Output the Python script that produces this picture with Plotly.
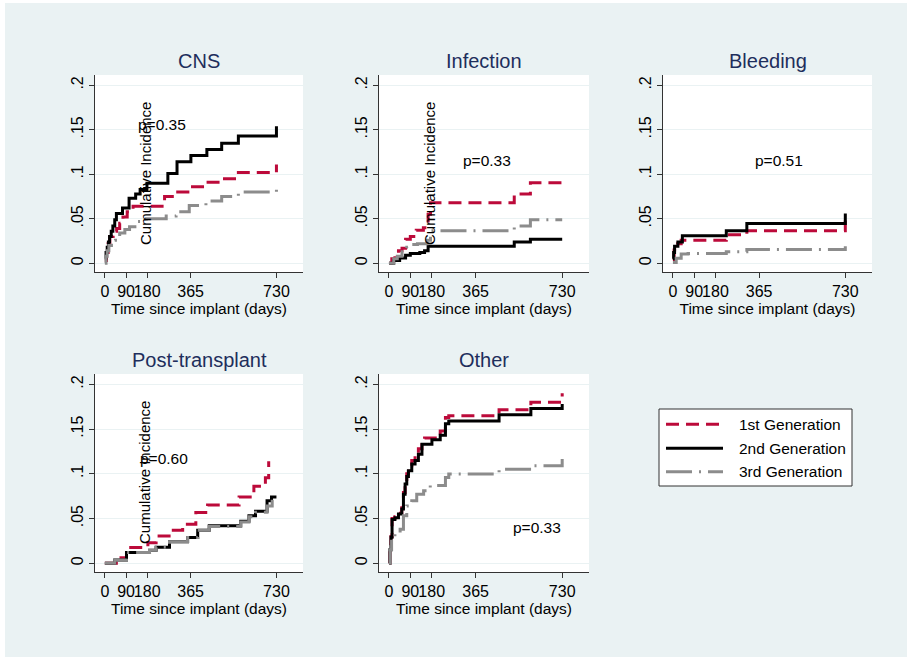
import plotly.graph_objects as go

W, H = 907, 657
FONT = "Liberation Sans, Arial, sans-serif"

# ---- chart content -------------------------------------------------------
panel_titles = ["CNS", "Infection", "Bleeding", "Post-transplant", "Other"]
series_names = ["1st Generation", "2nd Generation", "3rd Generation"]
p_labels = ["p=0.35", "p=0.33", "p=0.51", "p=0.60", "p=0.33"]
x_tickvals = [0, 90, 180, 365, 730]
x_ticktext = ["0", "90", "180", "365", "730"]
y_tickvals = [0, 0.05, 0.1, 0.15, 0.2]
y_ticktext = ["0", ".05", ".1", ".15", ".2"]
x_title = "Time since implant (days)"
y_title = "Cumulative Incidence"

# CNS
cns_gen1_days = [0, 7, 14, 21, 35, 50, 63, 77, 95, 120, 254, 310, 366, 430, 497, 568, 730]
cns_gen1_cif = [0.003, 0.012, 0.022, 0.030, 0.036, 0.039, 0.045, 0.052, 0.058, 0.064,
                0.075, 0.080, 0.086, 0.091, 0.095, 0.102, 0.111]
cns_gen2_days = [0, 5, 10, 15, 20, 27, 34, 42, 49, 75, 103, 131, 150, 179, 268, 307,
                 366, 434, 497, 568, 730]
cns_gen2_cif = [0.005, 0.012, 0.018, 0.024, 0.030, 0.036, 0.042, 0.049, 0.056, 0.062,
                0.073, 0.078, 0.083, 0.090, 0.101, 0.114, 0.121, 0.128, 0.135, 0.143, 0.154]
cns_gen3_days = [0, 5, 10, 17, 28, 45, 63, 85, 105, 137, 176, 261, 303, 359, 430, 497, 568, 730]
cns_gen3_cif = [0.0, 0.008, 0.014, 0.020, 0.026, 0.030, 0.034, 0.038, 0.041, 0.047,
                0.050, 0.053, 0.058, 0.065, 0.070, 0.075, 0.080, 0.086]

# Infection
inf_gen1_days = [0, 12, 25, 40, 55, 70, 90, 115, 145, 165, 175, 528, 596, 730]
inf_gen1_cif = [0, 0.005, 0.010, 0.014, 0.017, 0.027, 0.030, 0.037, 0.040, 0.055,
                0.068, 0.078, 0.0905, 0.0905]
inf_gen2_days = [0, 20, 45, 70, 90, 130, 150, 165, 528, 596, 730]
inf_gen2_cif = [0, 0.003, 0.006, 0.009, 0.011, 0.012, 0.014, 0.019, 0.024, 0.027, 0.027]
inf_gen3_days = [0, 20, 35, 55, 75, 95, 120, 160, 175, 528, 596, 730]
inf_gen3_cif = [0, 0.005, 0.008, 0.013, 0.018, 0.021, 0.022, 0.026, 0.0365, 0.042, 0.049, 0.049]

# Bleeding
bld_gen1_days = [0, 5, 20, 35, 226, 313, 730]
bld_gen1_cif = [0.004, 0.015, 0.022, 0.026, 0.032, 0.0365, 0.048]
bld_gen2_days = [0, 3, 7, 21, 40, 226, 313, 730]
bld_gen2_cif = [0.005, 0.012, 0.019, 0.024, 0.031, 0.0365, 0.0447, 0.056]
bld_gen3_days = [0, 14, 35, 64, 226, 313, 730]
bld_gen3_cif = [0.001, 0.0056, 0.0104, 0.011, 0.013, 0.0156, 0.019]

# Post-transplant
ptx_gen1_days = [0, 56, 92, 183, 218, 282, 331, 387, 437, 571, 634, 683, 697]
ptx_gen1_cif = [0, 0.006, 0.0175, 0.023, 0.0305, 0.037, 0.0436, 0.0566, 0.065, 0.074,
                0.086, 0.0957, 0.114]
ptx_gen2_days = [0, 42, 92, 190, 218, 275, 352, 395, 444, 578, 613, 641, 690, 709, 730]
ptx_gen2_cif = [0, 0.0037, 0.012, 0.0145, 0.018, 0.024, 0.0287, 0.037, 0.042, 0.047,
                0.053, 0.058, 0.070, 0.074, 0.074]
ptx_gen3_days = [0, 42, 92, 190, 218, 275, 352, 395, 444, 578, 613, 641, 690, 712]
ptx_gen3_cif = [0, 0.0037, 0.012, 0.0145, 0.018, 0.024, 0.0287, 0.037, 0.041, 0.046,
                0.052, 0.057, 0.064, 0.071]

# Other
oth_gen1_days = [0, 4, 8.5, 13, 25, 40, 54, 61, 68, 75, 82, 96, 110, 124, 139, 150,
                 181, 216, 238, 252, 464, 598, 730]
oth_gen1_cif = [0, 0.016, 0.030, 0.050, 0.052, 0.056, 0.062, 0.079, 0.091, 0.100, 0.109,
                0.115, 0.120, 0.128, 0.137, 0.140, 0.140, 0.148, 0.163, 0.165, 0.1716,
                0.180, 0.190]
oth_gen2_days = [0, 4, 8.5, 13, 25, 40, 54, 61, 68, 75, 82, 96, 110, 124, 139, 181,
                 216, 238, 252, 464, 598, 730]
oth_gen2_cif = [0, 0.015, 0.029, 0.049, 0.051, 0.055, 0.0606, 0.077, 0.0886, 0.097,
                0.1035, 0.111, 0.115, 0.122, 0.133, 0.138, 0.143, 0.156, 0.159, 0.166,
                0.173, 0.178]
oth_gen3_days = [0, 5, 11, 25, 47, 61, 75, 96, 117, 146, 174, 238, 252, 464, 613, 730]
oth_gen3_cif = [0, 0.015, 0.029, 0.034, 0.038, 0.053, 0.064, 0.070, 0.077, 0.081,
                0.087, 0.096, 0.0998, 0.105, 0.109, 0.1166]

panel_series = [
    [(cns_gen1_days, cns_gen1_cif), (cns_gen2_days, cns_gen2_cif), (cns_gen3_days, cns_gen3_cif)],
    [(inf_gen1_days, inf_gen1_cif), (inf_gen2_days, inf_gen2_cif), (inf_gen3_days, inf_gen3_cif)],
    [(bld_gen1_days, bld_gen1_cif), (bld_gen2_days, bld_gen2_cif), (bld_gen3_days, bld_gen3_cif)],
    [(ptx_gen1_days, ptx_gen1_cif), (ptx_gen2_days, ptx_gen2_cif), (ptx_gen3_days, ptx_gen3_cif)],
    [(oth_gen1_days, oth_gen1_cif), (oth_gen2_days, oth_gen2_cif), (oth_gen3_days, oth_gen3_cif)],
]

# ---- styling -------------------------------------------------------------
line_colors = ["#BC0A3A", "#000000", "#8C8C8C"]
line_dashes = ["13px,7px", "solid", "26px,7px,2px,7px"]
LINE_W = 3
BG = "#EAF2F3"
TITLE_COLOR = "#1E2E5C"

# plot-area boxes in pixels: (left, top, right, bottom)
boxes = [
    (95, 75, 303, 272),
    (379, 75, 589, 272),
    (663, 75, 872, 272),
    (95, 374, 303, 572),
    (379, 374, 589, 572),
]
# p-value label positions in data units (days, incidence)
p_pos = [(245, 0.156), (412, 0.115), (450, 0.115), (251, 0.117), (624, 0.040)]
# panels that carry the rotated incidence label, with its pixel centre
ylab_px = {0: (145, 174), 1: (429, 174), 3: (144, 473)}


def px(x):
    return x / W


def py(y):
    return 1 - y / H


fig = go.Figure()
annotations = []
shapes = []

for i, (l, t, r, b) in enumerate(boxes):
    n = i + 1
    xa = "x" if n == 1 else f"x{n}"
    ya = "y" if n == 1 else f"y{n}"
    for k, (days, cif) in enumerate(panel_series[i]):
        fig.add_trace(go.Scatter(
            x=days, y=cif, mode="lines", name=series_names[k],
            line=dict(color=line_colors[k], width=LINE_W, dash=line_dashes[k], shape="hv"),
            xaxis=xa, yaxis=ya, showlegend=False, hoverinfo="skip",
        ))
    axis_common = dict(
        showline=True, linecolor="#333333", linewidth=1,
        ticks="outside", ticklen=5, tickcolor="#333333", tickwidth=1,
        zeroline=False, tickfont=dict(family=FONT, size=16, color="#000000"),
    )
    fig.layout[f"xaxis{'' if n == 1 else n}"] = dict(
        domain=[px(l), px(r)], anchor=ya, range=[-42, 843],
        tickmode="array", tickvals=x_tickvals, ticktext=x_ticktext, tickangle=0,
        showgrid=False,
        title=dict(text=x_title, font=dict(family=FONT, size=15.5, color="#000000"), standoff=0),
        **axis_common,
    )
    fig.layout[f"yaxis{'' if n == 1 else n}"] = dict(
        domain=[py(b), py(t)], anchor=xa, range=[-0.0098, 0.2116],
        tickmode="array", tickvals=y_tickvals, ticktext=y_ticktext, tickangle=-90,
        showgrid=True, gridcolor=BG, gridwidth=1,
        **axis_common,
    )
    # panel title
    annotations.append(dict(
        text=panel_titles[i], xref="paper", yref="paper",
        x=px((l + r) / 2), y=py(t - 14), xanchor="center", yanchor="middle",
        showarrow=False, font=dict(family=FONT, size=20, color=TITLE_COLOR),
    ))
    # p-value
    annotations.append(dict(
        text=p_labels[i], xref=xa, yref=ya, x=p_pos[i][0], y=p_pos[i][1],
        xanchor="center", yanchor="middle", showarrow=False,
        font=dict(family=FONT, size=15.5, color="#000000"),
    ))
    if i in ylab_px:
        cx, cy = ylab_px[i]
        annotations.append(dict(
            text=y_title, xref="paper", yref="paper", x=px(cx), y=py(cy),
            xanchor="center", yanchor="middle", textangle=-90, showarrow=False,
            font=dict(family=FONT, size=15, color="#000000"),
        ))

# legend box
shapes.append(dict(type="rect", xref="paper", yref="paper",
                   x0=px(659), x1=px(852), y0=py(486), y1=py(409),
                   fillcolor="white", line=dict(color="#333333", width=1)))
for k, row_y in enumerate([424.3, 448.3, 471.7]):
    shapes.append(dict(type="line", xref="paper", yref="paper",
                       x0=px(666), x1=px(723), y0=py(row_y), y1=py(row_y),
                       line=dict(color=line_colors[k], width=LINE_W, dash=line_dashes[k])))
    annotations.append(dict(
        text=series_names[k], xref="paper", yref="paper", x=px(737), y=py(row_y),
        xanchor="left", yanchor="middle", showarrow=False,
        font=dict(family=FONT, size=15.5, color="#000000"),
    ))

# thin white margin at top and left edges of the page
shapes.append(dict(type="rect", xref="paper", yref="paper", x0=0, x1=px(5), y0=0, y1=1,
                   fillcolor="white", line=dict(width=0), layer="below"))
shapes.append(dict(type="rect", xref="paper", yref="paper", x0=0, x1=1, y0=py(3), y1=1,
                   fillcolor="white", line=dict(width=0), layer="below"))

fig.update_layout(
    width=W, height=H, margin=dict(l=0, r=0, t=0, b=0),
    paper_bgcolor=BG, plot_bgcolor="white",
    annotations=annotations, shapes=shapes, showlegend=False,
    font=dict(family=FONT, color="#000000"),
)

fig.write_html("out.html")
